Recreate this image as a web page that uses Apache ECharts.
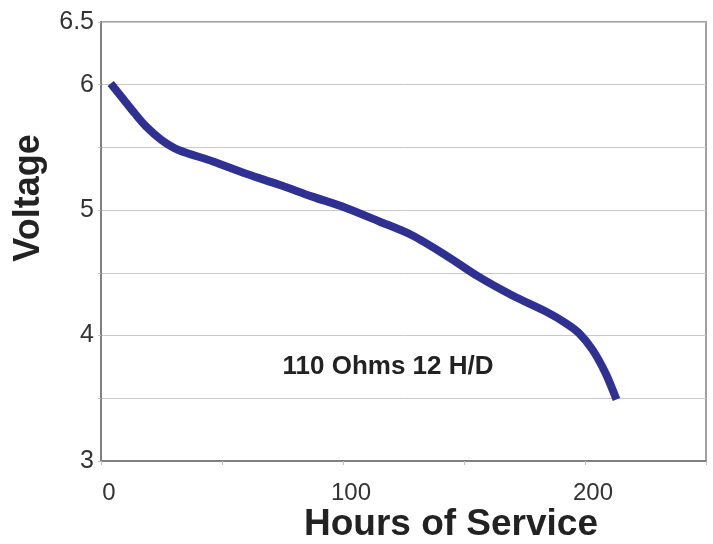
<!DOCTYPE html>
<html>
<head>
<meta charset="utf-8">
<script src="https://cdn.jsdelivr.net/npm/echarts@6/dist/echarts.min.js"></script>
<style>
  html, body { margin: 0; padding: 0; background: #fff; }
  #chart-root { width: 713px; height: 544px; }
</style>
</head>
<body>
<div id="chart-root"></div>
<script>
// hours of service vs voltage
const hours = [4, 9, 14, 18.5, 25, 32, 46, 60, 74, 87, 101, 115, 128.5, 142.5, 156, 170, 184, 192, 197.5, 203, 208.5, 213];
const voltage = [6.01, 5.89, 5.77, 5.67, 5.56, 5.48, 5.39, 5.29, 5.20, 5.11, 5.02, 4.91, 4.80, 4.64, 4.47, 4.32, 4.19, 4.10, 4.02, 3.89, 3.70, 3.49];
const yLabels = [3, 4, 5, 6, 6.5];
const xLabels = [0, 100, 200];
const curveName = '110 Ohms 12 H/D';

(function () {
  const root = document.getElementById('chart-root');
  const chart = echarts.init(root);
  const font = 'Liberation Sans, Arial, sans-serif';

  chart.setOption({
    animation: false,
    grid: {
      left: 101, top: 22, right: 7, bottom: 83,
      show: true, borderColor: '#a0a0a0', borderWidth: 2
    },
    xAxis: {
      type: 'value', min: 0, max: 250, interval: 50,
      axisLine: { show: true, lineStyle: { color: '#808080', width: 2 } },
      axisTick: { show: true, length: 4, lineStyle: { color: '#c0c0c0' } },
      splitLine: { show: false },
      axisLabel: {
        fontFamily: font, fontSize: 24, color: '#333', margin: 20,
        padding: [0, 0, 0, 16],
        formatter: function (v) { return xLabels.indexOf(v) >= 0 ? String(v) : ''; }
      }
    },
    yAxis: {
      type: 'value', min: 3, max: 6.5, interval: 0.5,
      axisLine: { show: true, lineStyle: { color: '#808080', width: 2 } },
      axisTick: { show: true, length: 3, lineStyle: { color: '#c0c0c0' } },
      splitLine: { show: true, lineStyle: { color: '#c8c8c8', width: 1 } },
      axisLabel: {
        fontFamily: font, fontSize: 25, color: '#333', margin: 7,
        padding: [0, 0, 8, 0],
        formatter: function (v) { return yLabels.indexOf(v) >= 0 ? String(v) : ''; }
      }
    },
    graphic: [
      { type: 'text', x: 388, y: 367, style: { text: curveName, font: 'bold 26px ' + font, fill: '#222', align: 'center', verticalAlign: 'middle' } },
      { type: 'text', x: 451, y: 525, style: { text: 'Hours of Service', font: 'bold 37px ' + font, fill: '#222', align: 'center', verticalAlign: 'middle' } },
      { type: 'text', x: 29, y: 198, rotation: Math.PI / 2, style: { text: 'Voltage', font: 'bold 36px ' + font, fill: '#222', align: 'center', verticalAlign: 'middle' } }
    ],
    series: [{
      type: 'line',
      name: curveName,
      smooth: 0.3,
      symbol: 'none',
      lineStyle: { color: '#2e3192', width: 8, cap: 'butt' },
      data: hours.map(function (h, i) { return [h, voltage[i]]; })
    }]
  });
}());
</script>
</body>
</html>
